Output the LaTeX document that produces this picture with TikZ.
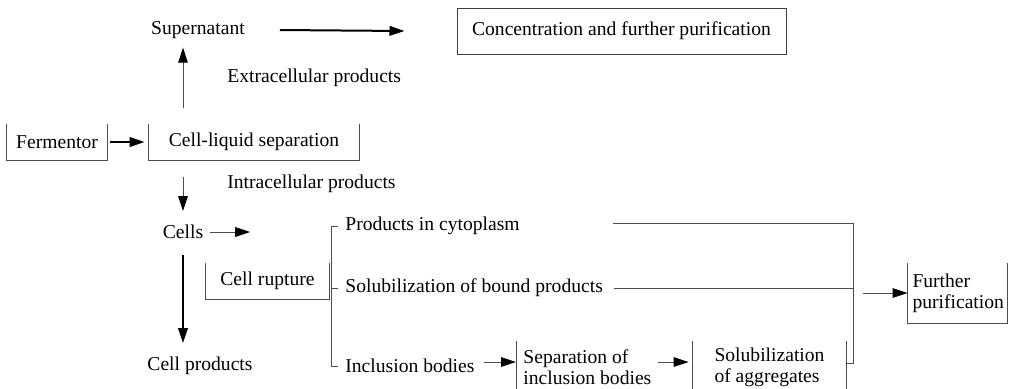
\documentclass[tikz,border=0pt]{standalone}
\usepackage{fontspec}
\setmainfont{Liberation Serif}
\usetikzlibrary{arrows.meta,positioning,calc}

\begin{document}
\begin{tikzpicture}[
  x=0.5pt, y=-0.5pt,
  font=\fontsize{9.8}{10.6}\selectfont,
  lbl/.style={inner sep=0pt},
  ubox/.style={inner sep=0pt, minimum height=18pt},
  frame/.style={draw=black!75, line width=0.5pt, inner sep=0pt, minimum height=23pt, minimum width=164.5pt},
  item/.style={inner ysep=0pt, inner xsep=3.5pt, anchor=west},
  wire/.style={line width=0.5pt, black!70},
  flow/.style={wire, -{Triangle[length=7.5pt,width=4.8pt,black]}},
  bold/.style={line width=1pt, black, -{Triangle[length=7.5pt,width=4.8pt]}},
]
\useasboundingbox (0,0) rectangle (1014,388);
% ---------------- upper part ----------------
\node (super) at (198,30) {Supernatant};
\node[frame] (conc) at (621.5,31) {Concentration and further purification};
\node[ubox, minimum width=50pt] (ferm) at (57,142) {Fermentor};
\node[ubox, minimum width=105pt] (sep) at (254,142) {Cell-liquid separation};
\node[lbl, anchor=west] (extra) at (227,78) {Extracellular products};
\node[lbl, anchor=west] (intra) at (227,184) {Intracellular products};
\node (cells) at (183,232) {Cells};
\node (cellprod) at (200,366) {Cell products};
\node[ubox, minimum width=61.5pt] (rupt) at (267.5,281) {Cell rupture};

\draw[bold] ([xshift=14pt]super.east) -- ([xshift=-26pt]conc.west);
\draw[bold] ([xshift=1.5pt]ferm.east) -- ([xshift=-2pt]sep.west);
\draw[flow] ([yshift=8pt]sep.north -| cells) -- ([yshift=-1pt]super.south -| cells);
\draw[flow] ([yshift=-8.5pt]sep.south -| cells) -- ([yshift=3.5pt]cells.north);
\coordinate[right=20pt of cells.east] (ctip);
\draw[flow] (cells.east) -- (ctip);
\draw[bold] ([yshift=-4.5pt]cells.south) -- ([yshift=3.5pt]cellprod.north -| cells);

% ---------------- products after rupture ----------------
\node[item] (cyto) at (338,226) {Products in cytoplasm};
\node[item] (bound) at (338,288) {Solubilization of bound products};
\node[item] (incl) at (338,366) {Inclusion bodies};
\draw[wire] (cyto.west) -- ++(-7,0) |- (incl.west);
\draw[wire] (bound.west) -- ++(-7,0);

\node[item, inner xsep=3.5pt, align=left, minimum height=22.5pt] (sepib) at (516,367)
  {Separation of\\inclusion bodies};
\node[inner sep=0pt, align=left, minimum height=22.5pt, minimum width=76.5pt] (solagg) at (769.5,367)
  {Solubilization\\of aggregates};
\node[inner sep=2.25pt, text width=45pt, align=left, minimum height=30pt] (further) at (957.5,293)
  {Further\\purification};

\foreach \n in {ferm,sep,rupt,further}
  \draw[wire] (\n.north west) |- (\n.south east) -- (\n.north east);
\draw[wire] ([yshift=1.5pt]sepib.north west) -- (sepib.south west);
\draw[wire] ([yshift=1.5pt]solagg.north west) -- (solagg.south west);
\draw[wire] ([yshift=1.5pt]solagg.north east) -- (solagg.south east);

\coordinate (jtop) at (853,223);
\coordinate (jbot) at (853,363);
\coordinate (cstart) at (613,223);
\draw[wire] (cstart) -- (jtop) -- (jbot) -- (jbot -| solagg.east);
\draw[wire] ([xshift=2pt]bound.east) -- (bound.east -| jtop);
\draw[flow] ([xshift=5pt]jtop |- further.west) -- (further.west);
\coordinate (ibarr) at ([yshift=2pt]incl.east);
\draw[flow] ([xshift=1pt]ibarr) -- (ibarr -| sepib.west);
\draw[flow] ([xshift=71pt]ibarr -| sepib.west) -- ([xshift=-2pt]ibarr -| solagg.west);
\end{tikzpicture}
\end{document}
